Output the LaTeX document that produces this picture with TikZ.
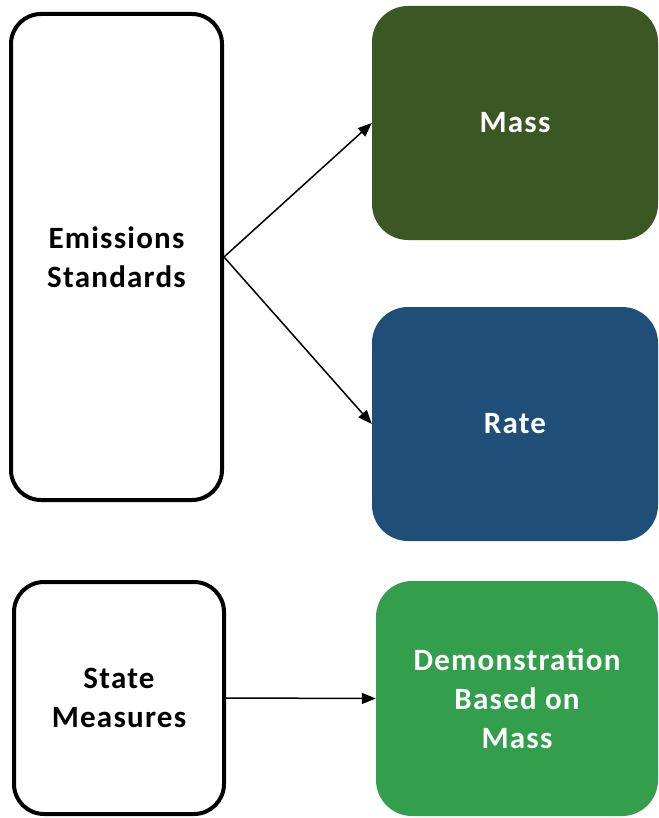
\documentclass[tikz,border=0pt]{standalone}
\usepackage{fontspec}
\setmainfont{Carlito}[LetterSpace=4]
\usetikzlibrary{arrows.meta}
\definecolor{massgreen}{HTML}{3B5724}
\definecolor{rateblue}{HTML}{1F4E79}
\definecolor{demogreen}{HTML}{339E4C}

\begin{document}
\begin{tikzpicture}[x=1pt, y=-1pt,
		outlinenode/.style={rectangle, rounded corners=30pt, draw=black, line width=4pt, fill=white,
			font=\fontsize{31}{39}\selectfont\bfseries, align=center, inner sep=0pt},
		fillednode/.style={rectangle, rounded corners=36pt, draw=none, text=white,
			font=\fontsize{31}{39}\selectfont\bfseries, align=center, inner sep=0pt},
		link/.style={line width=1.5pt, -{Triangle[length=14pt,width=11pt]}},
		]
		\useasboundingbox (0,0) rectangle (658,818);
		%Nodes
		\node[outlinenode, minimum width=211pt, minimum height=486pt] (emissions) at (116.5,257) {Emissions\\Standards};
		\node[fillednode, fill=massgreen, minimum width=286pt, minimum height=234pt] (mass) at (515,123) {Mass};
		\node[fillednode, fill=rateblue, minimum width=286pt, minimum height=234pt] (rate) at (515,424) {Rate};
		\node[outlinenode, minimum width=210pt, minimum height=232pt] (state) at (119,698) {State\\Measures};
		\node[fillednode, fill=demogreen, minimum width=282pt, minimum height=235pt] (demo) at (517,698.5) {Demonstration\\Based on\\Mass};
		
		%Lines
		\draw[link] (emissions.east) -- (mass.west);
		\draw[link] (emissions.east) -- (rate.west);
		\draw[link] (state.east) -- (demo.west);
		
	\end{tikzpicture}
\end{document}
